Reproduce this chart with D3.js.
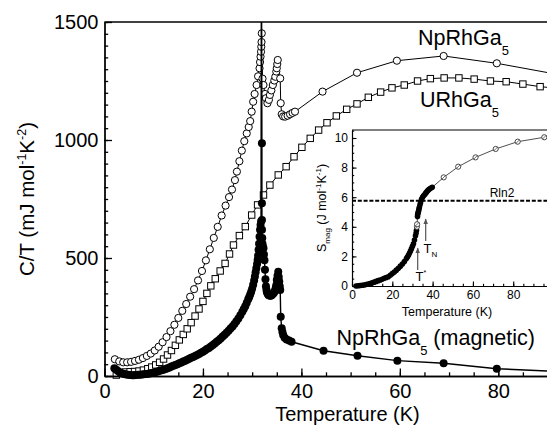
<!DOCTYPE html>
<html>
<head>
<meta charset="utf-8">
<script src="https://cdn.jsdelivr.net/npm/d3@7"></script>
<style>
  body { margin: 0; background: #fff; }
  svg { font-family: "Liberation Sans", Arial, Helvetica, sans-serif; }
</style>
</head>
<body>
<svg width="547" height="425"></svg>
<script>
// main panel: [T (K), C/T (mJ mol-1 K-2)]
let npRhGa5 = [[2.1,71],[3.0,62],[3.8,58],[4.6,58],[5.4,60],[6.2,64],[7.0,69],[7.8,76],[8.6,85],[9.4,95],
  [10.2,108],[11.0,124],[11.8,143],[12.6,165],[13.4,190],[14.2,217],[15.0,246],[15.8,276],[16.6,305],[17.4,336],
  [18.2,368],[19.0,405],[19.8,445],[20.6,490],[21.4,537],[22.2,585],[23.0,632],[23.8,680],[24.6,722],[25.3,758],
  [25.9,790],[26.5,830],[26.9,866],[27.4,910],[27.9,955],[28.4,995],[28.9,1028],[29.3,1055],[29.6,1080],[29.9,1120],
  [30.2,1162],[30.5,1195],[30.9,1233],[31.2,1270],[31.5,1304],[31.6,1330],[31.7,1353],[31.8,1374],[31.85,1395],
  [31.9,1415],[31.95,1452],[32.1,1260],[32.3,1233],[32.6,1195],[32.8,1177],[33.1,1156],[33.4,1170],[33.6,1191],
  [33.9,1210],[34.2,1233],[34.5,1252],[34.7,1268],[34.9,1290],[35.0,1304],[35.1,1322],[35.2,1339],[35.7,1261],
  [35.8,1156],[36.0,1109],[36.3,1100],[36.7,1099],[37.2,1103],[37.7,1109],[38.2,1115],[38.7,1120],
  [44.3,1205],[51.3,1285],[59.4,1336],[68.9,1356],[79.7,1325],[91.5,1280]];

let uRhGa5 = [[2.4,4],[3.4,14],[4.3,17],[5.2,18],[6.1,19],[7.0,21],[7.9,25],[8.8,31],[9.6,38],[10.4,47],
  [11.2,58],[12.0,72],[12.8,89],[13.6,108],[14.4,130],[15.2,153],[16.0,176],[16.8,200],[17.6,226],[18.4,254],
  [19.2,284],[20.0,316],[20.8,350],[21.6,382],[22.5,412],[23.5,445],[24.5,477],[25.4,517],[26.2,555],[27.4,595],
  [28.6,633],[29.9,682],[31.1,725],[32.3,767],[33.6,809],[35.3,852],[36.9,887],[38.5,929],[40.1,969],[41.8,1007],
  [43.5,1042],[45.2,1073],[47.1,1102],[49.2,1130],[51.3,1153],[53.6,1181],[56.1,1203],[58.4,1221],[60.9,1233],
  [63.6,1250],[66.2,1260],[69.0,1263],[72.0,1263],[75.1,1258],[78.4,1250],[81.6,1247],[85.0,1237],[88.5,1226],
  [91.5,1220]];

let npMagnetic = [[2.0,33],[2.4,26],[2.8,20],[3.2,15],[3.6,11],[4.0,8],[4.4,6],[4.8,5],[5.2,4],[5.6,3],
  [6.0,3],[6.4,4],[6.8,5],[7.2,5],[7.6,6],[8.0,7],[8.4,8],[8.8,10],[9.2,11],[9.6,13],
  [10.0,15],[10.4,17],[10.8,19],[11.2,22],[11.6,24],[12.0,27],[12.4,30],[12.8,33],[13.2,36],[13.6,40],
  [14.0,43],[14.4,47],[14.8,50],[15.2,54],[15.6,57],[16.0,61],[16.4,65],[16.8,69],[17.2,73],[17.6,77],
  [18.0,81],[18.4,85],[18.8,89],[19.2,93],[19.6,98],[20.0,103],[20.4,108],[20.8,114],[21.2,119],[21.6,125],
  [22.0,131],[22.4,138],[22.8,145],[23.2,152],[23.6,159],[24.0,167],[24.4,175],[24.8,183],[25.2,192],[25.6,201],
  [26.0,210],[26.4,220],[26.8,232],[27.2,244],[27.6,257],[28.0,272],[28.3,284],[28.6,296],[28.9,310],[29.2,325],
  [29.4,335],[29.6,345],[29.8,357],[30.0,370],[30.2,387],[30.4,405],[30.55,422],[30.7,440],[30.85,457],[31.0,475],
  [31.1,492],[31.2,510],[31.3,535],[31.4,560],[31.5,590],[31.6,620],[31.7,640],[31.8,655],[31.88,1900],[31.98,986],
  [31.98,732],[31.99,661],[32.0,620],[32.05,585],[32.1,560],[32.2,548],[32.3,541],[32.4,515],[32.5,490],[32.6,450],
  [32.7,410],[32.8,380],[32.9,365],[33.0,355],[33.15,348],[33.3,343],[33.5,341],[33.7,340],[33.85,341],[34.0,343],
  [34.2,347],[34.4,352],[34.55,358],[34.7,364],[34.8,374],[34.9,385],[35.0,407],[35.15,425],[35.3,442],[35.4,420],
  [35.5,400],[35.6,380],[35.7,364],[35.8,251],[36.0,202],[36.15,186],[36.3,174],[36.6,162],[37.0,155],[37.5,150],
  [38.0,145],[44.5,107],[51.4,86],[59.5,65],[68.9,54],[79.7,31],[91.5,20]];

// inset: [T (K), S_mag (J mol-1 K-1)]
let sMagDense = [[2,0.0],[3,0.02],[4,0.03],[5,0.05],[6,0.07],[7,0.1],[8,0.13],[9,0.17],[10,0.22],[11,0.26],
  [12,0.31],[13,0.36],[14,0.41],[15,0.46],[16,0.52],[17,0.57],[18,0.63],[19,0.73],[20,0.84],[21,0.95],
  [22,1.07],[23,1.2],[24,1.34],[25,1.49],[26,1.66],[27,1.85],[27.5,1.96],[28,2.07],[28.5,2.21],[29,2.36],
  [29.5,2.52],[30,2.68],[30.5,2.85],[31,3.1],[31.5,3.4],[31.8,3.58],[32,3.76],[32.5,4.7],[32.6,4.84],[32.8,4.95],
  [33.0,5.05],[33.2,5.18],[33.4,5.3],[33.7,5.47],[34.0,5.62],[34.5,5.85],[35.0,6.0],[35.5,6.1],[36.2,6.2],
  [36.6,6.28],[37,6.35],[37.5,6.43],[38,6.5],[38.5,6.55],[39,6.6],[39.8,6.67]];
let sMagOpen = [[32.2,4.0],[32.3,4.17],[45.5,7.34],[52.7,8.06],[61.3,8.69],[71.3,9.26],[82.2,9.75],[95.4,10.05]];
let rln2 = 5.763;

let xTicks = [0, 20, 40, 60, 80];
let yTicks = [0, 500, 1000, 1500];
let xiTicks = [0, 20, 40, 60, 80];
let yiTicks = [0, 2, 4, 6, 8, 10];

let svg = d3.select('svg');

let x = d3.scaleLinear().domain([0, 90]).range([104.5, 547.5]);
let y = d3.scaleLinear().domain([0, 1500]).range([376, 22]);

svg.append('defs').append('clipPath').attr('id', 'clipMain')
  .append('rect').attr('x', 95).attr('y', 22).attr('width', 460).attr('height', 390);

svg.append('defs').append('marker')
  .attr('id', 'arrow').attr('viewBox', '0 0 10 10').attr('refX', 9).attr('refY', 5)
  .attr('markerWidth', 5).attr('markerHeight', 6).attr('orient', 'auto')
  .append('path').attr('d', 'M0,1 L10,5 L0,9 Z').attr('fill', '#555');

let line = d3.line().x(d => x(d[0])).y(d => y(d[1]));
let plot = svg.append('g').attr('clip-path', 'url(#clipMain)');

// URhGa5
plot.append('path').datum(uRhGa5).attr('d', line)
  .attr('fill', 'none').attr('stroke', '#000').attr('stroke-width', 1);
plot.selectAll('.sq').data(uRhGa5).enter().append('rect')
  .attr('x', d => x(d[0]) - 3.2).attr('y', d => y(d[1]) - 3.2)
  .attr('width', 6.4).attr('height', 6.4)
  .attr('fill', '#fff').attr('stroke', '#000').attr('stroke-width', 1);

// NpRhGa5
plot.append('path').datum(npRhGa5).attr('d', line)
  .attr('fill', 'none').attr('stroke', '#000').attr('stroke-width', 1);
plot.selectAll('.oc').data(npRhGa5).enter().append('circle')
  .attr('cx', d => x(d[0])).attr('cy', d => y(d[1])).attr('r', 3.6)
  .attr('fill', '#fff').attr('stroke', '#000').attr('stroke-width', 1);

// NpRhGa5 magnetic
plot.append('path').datum(npMagnetic).attr('d', line)
  .attr('fill', 'none').attr('stroke', '#000').attr('stroke-width', 1.4);
plot.selectAll('.fc').data(npMagnetic.filter(d => d[1] < 1500)).enter().append('circle')
  .attr('cx', d => x(d[0])).attr('cy', d => y(d[1])).attr('r', 4)
  .attr('fill', '#000');

// main axes
let axisStyle = (g) => {
  g.selectAll('path, line').attr('stroke', '#000').attr('stroke-width', 1.3);
  g.selectAll('text').attr('font-size', 20).attr('fill', '#000')
    .attr('font-family', '"Liberation Sans", Arial, sans-serif');
};
svg.append('g').attr('transform', 'translate(0,376)')
  .call(d3.axisBottom(x).tickValues(d3.range(0, 91, 5)).tickSize(-3.7).tickSizeOuter(0).tickFormat(''))
  .call(axisStyle);
svg.append('g').attr('transform', 'translate(0,376)')
  .call(d3.axisBottom(x).tickValues(xTicks).tickSize(-7.5).tickSizeOuter(0).tickPadding(8).tickFormat(d3.format('d')))
  .call(axisStyle);
svg.append('g').attr('transform', 'translate(104.5,0)')
  .call(d3.axisLeft(y).tickValues(d3.range(0, 1501, 50)).tickSize(-3.7).tickSizeOuter(0).tickFormat(''))
  .call(axisStyle);
svg.append('g').attr('transform', 'translate(104.5,0)')
  .call(d3.axisLeft(y).tickValues(yTicks).tickSize(-7.5).tickSizeOuter(0).tickPadding(6).tickFormat(d3.format('d')))
  .call(axisStyle);
svg.append('line').attr('x1', 104.5).attr('x2', 547.5).attr('y1', 22).attr('y2', 22)
  .attr('stroke', '#000').attr('stroke-width', 1.3);

svg.append('text').attr('x', 347.5).attr('y', 421).attr('text-anchor', 'middle')
  .attr('font-size', 20).text('Temperature (K)');

let yTitle = svg.append('text').attr('text-anchor', 'middle').attr('font-size', 20.5)
  .attr('transform', 'translate(33.5,199)rotate(-90)');
yTitle.append('tspan').text('C/T (mJ mol');
yTitle.append('tspan').attr('font-size', 12.5).attr('dy', -8).text('-1');
yTitle.append('tspan').attr('dy', 8).text('K');
yTitle.append('tspan').attr('font-size', 12.5).attr('dy', -8).text('-2');
yTitle.append('tspan').attr('dy', 8).text(')');

// series labels
let label = (tx, ty, name, extra) => {
  let t = svg.append('text').attr('x', tx).attr('y', ty).attr('font-size', 21.5);
  t.append('tspan').text(name);
  t.append('tspan').attr('font-size', 13).attr('dy', 10).text('5');
  if (extra) t.append('tspan').attr('dy', -10).text(extra);
};
label(418, 45, 'NpRhGa');
label(420, 106.5, 'URhGa');
label(336.5, 345, 'NpRhGa', ' (magnetic)');

// inset
let xi = d3.scaleLinear().domain([0, 97]).range([352, 547.5]);
let yi = d3.scaleLinear().domain([0, 10.54]).range([286, 130]);
let inset = svg.append('g');
inset.append('rect').attr('x', 352).attr('y', 130).attr('width', 200).attr('height', 156).attr('fill', '#fff');

let smallStyle = (g) => {
  g.selectAll('path, line').attr('stroke', '#000').attr('stroke-width', 1.1);
  g.selectAll('text').attr('font-size', 12).attr('fill', '#000')
    .attr('font-family', '"Liberation Sans", Arial, sans-serif');
};
inset.append('g').attr('transform', 'translate(0,286)')
  .call(d3.axisBottom(xi).tickValues(d3.range(0, 96, 5)).tickSize(-2.2).tickSizeOuter(0).tickFormat(''))
  .call(smallStyle);
inset.append('g').attr('transform', 'translate(0,286)')
  .call(d3.axisBottom(xi).tickValues(xiTicks).tickSize(-4.5).tickSizeOuter(0).tickPadding(4))
  .call(smallStyle);
inset.append('g').attr('transform', 'translate(352,0)')
  .call(d3.axisLeft(yi).tickValues(d3.range(0, 10.51, 0.5)).tickSize(-2.2).tickSizeOuter(0).tickFormat(''))
  .call(smallStyle);
inset.append('g').attr('transform', 'translate(352,0)')
  .call(d3.axisLeft(yi).tickValues(yiTicks).tickSize(-4.5).tickSizeOuter(0).tickPadding(4))
  .call(smallStyle);
inset.append('line').attr('x1', 352).attr('x2', 547.5).attr('y1', 130).attr('y2', 130)
  .attr('stroke', '#000').attr('stroke-width', 1.1);

inset.append('line').attr('x1', xi(0)).attr('x2', xi(97)).attr('y1', yi(rln2)).attr('y2', yi(rln2))
  .attr('stroke', '#000').attr('stroke-width', 2).attr('stroke-dasharray', '4,1.8');
inset.append('text').attr('x', 502).attr('y', 197).attr('text-anchor', 'middle')
  .attr('font-size', 12).text('Rln2');

let lineI = d3.line().x(d => xi(d[0])).y(d => yi(d[1]));
let sAll = sMagDense.concat(sMagOpen).sort((a, b) => a[0] - b[0]);
inset.append('path').datum(sAll).attr('d', lineI)
  .attr('fill', 'none').attr('stroke', '#222').attr('stroke-width', 0.8);
inset.selectAll('.sd').data(sMagDense).enter().append('circle')
  .attr('cx', d => xi(d[0])).attr('cy', d => yi(d[1])).attr('r', 2.8).attr('fill', '#000');
let so = inset.selectAll('.so').data(sMagOpen).enter().append('g')
  .attr('transform', d => 'translate(' + xi(d[0]) + ',' + yi(d[1]) + ')');
so.append('circle').attr('r', 2.6).attr('fill', '#fff').attr('stroke', '#333').attr('stroke-width', 0.9);
so.append('line').attr('x1', -1.8).attr('y1', 1.8).attr('x2', 1.8).attr('y2', -1.8)
  .attr('stroke', '#333').attr('stroke-width', 0.7);

// T* and T_N arrows
inset.append('line').attr('x1', 417.7).attr('x2', 417.7).attr('y1', 270).attr('y2', 248)
  .attr('stroke', '#555').attr('stroke-width', 1.2).attr('marker-end', 'url(#arrow)');
inset.append('line').attr('x1', 425.7).attr('x2', 425.7).attr('y1', 241).attr('y2', 219)
  .attr('stroke', '#555').attr('stroke-width', 1.2).attr('marker-end', 'url(#arrow)');
let tStar = inset.append('text').attr('x', 415.5).attr('y', 281).attr('font-size', 13);
tStar.append('tspan').text('T');
tStar.append('tspan').attr('font-size', 7).attr('dy', -6).text('*');
let tN = inset.append('text').attr('x', 423.5).attr('y', 252.5).attr('font-size', 13);
tN.append('tspan').text('T');
tN.append('tspan').attr('font-size', 8).attr('dy', 4).text('N');

inset.append('text').attr('x', 447).attr('y', 315.5).attr('text-anchor', 'middle')
  .attr('font-size', 12.5).text('Temperature (K)');
let yiTitle = inset.append('text').attr('text-anchor', 'middle').attr('font-size', 12.5)
  .attr('transform', 'translate(326,208)rotate(-90)');
yiTitle.append('tspan').text('S');
yiTitle.append('tspan').attr('font-size', 8).attr('dy', 4).text('mag');
yiTitle.append('tspan').attr('dy', -4).text(' (J mol');
yiTitle.append('tspan').attr('font-size', 8).attr('dy', -5).text('-1');
yiTitle.append('tspan').attr('dy', 5).text('K');
yiTitle.append('tspan').attr('font-size', 8).attr('dy', -5).text('-1');
yiTitle.append('tspan').attr('dy', 5).text(')');
</script>
</body>
</html>
